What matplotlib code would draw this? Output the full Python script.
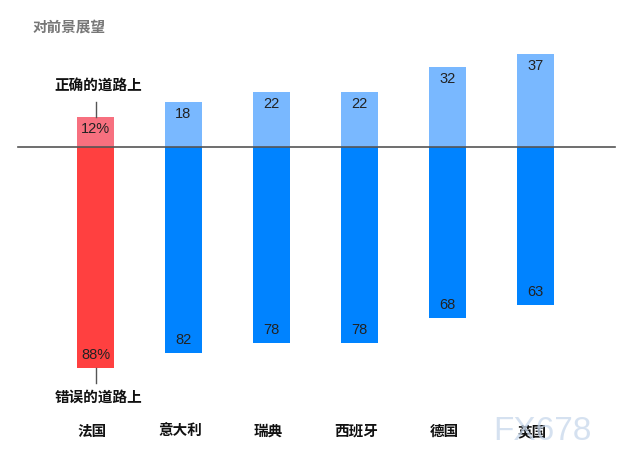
import matplotlib
matplotlib.use("Agg")
import matplotlib.pyplot as plt

plt.rcParams['font.family'] = ['Noto Sans CJK SC', 'DejaVu Sans']

categories = ["法国", "意大利", "瑞典", "西班牙", "德国", "英国"]
right_track = [12, 18, 22, 22, 32, 37]
wrong_track = [88, 82, 78, 78, 68, 63]
top_colors = ["#F7707F", "#79B8FF", "#79B8FF", "#79B8FF", "#79B8FF", "#79B8FF"]
bottom_colors = ["#FF4040", "#0083FF", "#0083FF", "#0083FF", "#0083FF", "#0083FF"]

W, H = 619, 467
fig = plt.figure(figsize=(W / 100, H / 100), dpi=100)
ax = fig.add_axes([0, 0, 1, 1])
ax.set_axis_off()

px_x0, px_dx = 95.5, 88.0
base_px, ppu = 147.0, 2.51
ax.set_xlim(-px_x0 / px_dx, (W - px_x0) / px_dx)
ax.set_ylim(-(H - base_px) / ppu, base_px / ppu)

x = list(range(len(categories)))
ax.bar(x, right_track, width=0.43, color=top_colors, zorder=2)
ax.bar(x, [-v for v in wrong_track], width=0.43, color=bottom_colors, zorder=2)

ax.axhline(0, xmin=18 / W, xmax=615 / W, color="#555555", lw=1.2, zorder=3)

num_font = ['Liberation Sans', 'DejaVu Sans']
for i, (t, b) in enumerate(zip(right_track, wrong_track)):
    suffix = "%" if i == 0 else ""
    ax.text(i, t - 4.8, f"{t}{suffix}", ha="center", va="center",
            fontsize=10.5, color="#222222", family=num_font, zorder=4)
    ax.text(i, -b + 5.2, f"{b}{suffix}", ha="center", va="center",
            fontsize=10.5, color="#222222", family=num_font, zorder=4)

# annotations for France
ax.plot([0, 0], [right_track[0], right_track[0] + 6], color="#555555", lw=1)
ax.text(0.03, right_track[0] + 12.8, "正确的道路上", ha="center", va="center",
        fontsize=10.5, fontweight="bold", color="#111111")
ax.plot([0, 0], [-wrong_track[0], -wrong_track[0] - 6], color="#555555", lw=1)
ax.text(0.03, -wrong_track[0] - 11.5, "错误的道路上", ha="center", va="center",
        fontsize=10.5, fontweight="bold", color="#111111")

for i, c in enumerate(categories):
    ax.text(i - 0.04, -(431 - base_px) / ppu, c, ha="center", va="center",
            fontsize=10.5, fontweight="bold", color="#111111")

fig.text(33 / W, 1 - 27 / H, "对前景展望", ha="left", va="center",
         fontsize=10.5, fontweight="bold", color="#777777")

fig.text(542 / W, 1 - 431 / H, "FX678", ha="center", va="center",
         fontsize=24, color="#C8D8EC", alpha=0.75, family=num_font, zorder=5)

fig.savefig("out.png", dpi=100, facecolor="white")
